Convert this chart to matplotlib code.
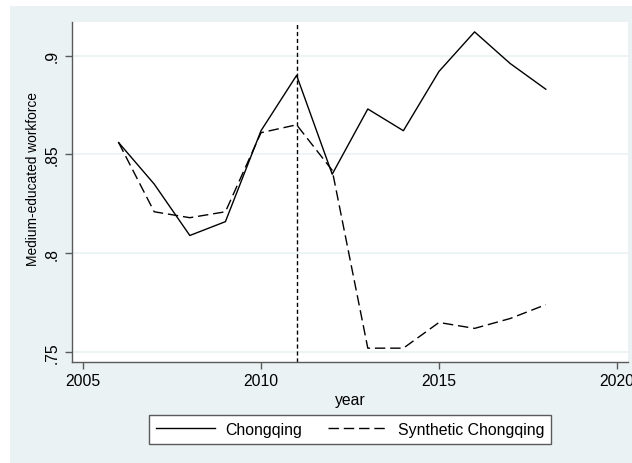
import matplotlib.pyplot as plt
from matplotlib.patches import Rectangle

plt.rcParams['font.family'] = ['Liberation Sans', 'DejaVu Sans']

years = [2006, 2007, 2008, 2009, 2010, 2011, 2012, 2013, 2014, 2015, 2016, 2017, 2018]
chongqing = [0.856, 0.835, 0.809, 0.816, 0.862, 0.890, 0.840, 0.873, 0.862, 0.892, 0.912, 0.896, 0.883]
synthetic = [0.856, 0.821, 0.818, 0.821, 0.861, 0.865, 0.842, 0.752, 0.752, 0.765, 0.762, 0.767, 0.774]
treat_year = 2011

xticks = [2005, 2010, 2015, 2020]
yticks = [0.75, 0.80, 0.85, 0.90]
ytick_labels = ['.75', '.8', '.85', '.9']

bg = '#eaf2f3'
axis_col = '#5a5a5a'
fs = 11.3

fig = plt.figure(figsize=(6.32, 4.64), dpi=100, facecolor='white')
fig.patches.append(Rectangle((10 / 632, 0), 1, 1 - 7 / 464, transform=fig.transFigure,
                             facecolor=bg, edgecolor='none', zorder=-10))

ax = fig.add_axes([72 / 632, 101 / 464, 556 / 632, 340 / 464])
ax.set_facecolor('white')

for y in yticks:
    ax.axhline(y, color=bg, lw=1.2, zorder=1)

l1, = ax.plot(years, chongqing, color='black', lw=1.0, zorder=3, label='Chongqing')
l2, = ax.plot(years, synthetic, color='black', lw=1.0, linestyle=(0, (7.5, 3.5)),
              zorder=3, label='Synthetic Chongqing')
ax.axvline(treat_year, color='black', lw=1.0, linestyle=(0, (3, 2)), zorder=2)

ax.set_xlim(2004.69, 2020.31)
ax.set_ylim(0.745, 0.917)
ax.set_xticks(xticks)
ax.set_yticks(yticks)
ax.set_yticklabels(ytick_labels, rotation=90, va='center')

for s in ['top', 'right']:
    ax.spines[s].set_visible(False)
for s in ['left', 'bottom']:
    ax.spines[s].set_color(axis_col)
    ax.spines[s].set_linewidth(1.0)
ax.tick_params(axis='both', colors=axis_col, labelcolor='black', labelsize=fs,
               length=5, width=1.0, direction='out')
ax.tick_params(axis='x', pad=3)
ax.tick_params(axis='y', pad=4)

ax.set_xlabel('year', fontsize=fs, labelpad=3)
ax.set_ylabel('Medium-educated workforce', fontsize=9.9)
ax.yaxis.set_label_coords(-0.0576, 0.54)

leg = fig.legend(handles=[l1, l2], loc='center', bbox_to_anchor=(350 / 632, 1 - 430.5 / 464),
                 ncol=2, frameon=True, fancybox=False, fontsize=11.4, handlelength=3.7,
                 handletextpad=0.7, columnspacing=1.6, borderpad=0.45)
leg.get_frame().set_edgecolor(axis_col)
leg.get_frame().set_linewidth(1.0)
leg.get_frame().set_facecolor('white')
leg.get_frame().set_alpha(1)

fig.savefig('out.png', dpi=100, facecolor=fig.get_facecolor())
